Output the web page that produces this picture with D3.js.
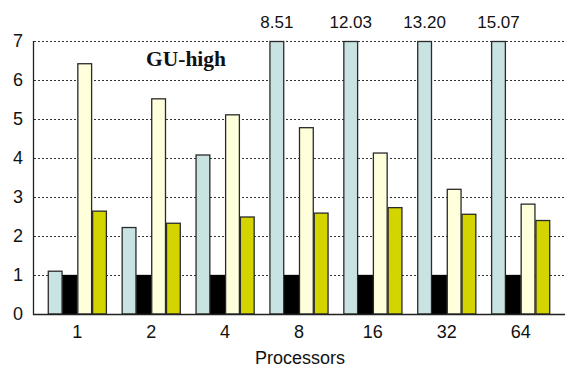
<!DOCTYPE html>
<html>
<head>
<meta charset="utf-8">
<script src="https://cdn.jsdelivr.net/npm/d3@7"></script>
<style>
  html, body { margin: 0; padding: 0; background: #fff; }
  svg { display: block; }
</style>
</head>
<body>
<svg id="chart" width="566" height="369"></svg>
<script>
// ---- data ----
const categories = ["1", "2", "4", "8", "16", "32", "64"];
const seriesNames = ["A", "B", "C", "D"];
const seriesA = [1.11, 2.23, 4.09, 8.51, 12.03, 13.20, 15.07];
const seriesB = [1, 1, 1, 1, 1, 1, 1];
const seriesC = [6.43, 5.53, 5.12, 4.79, 4.14, 3.21, 2.83];
const seriesD = [2.65, 2.34, 2.50, 2.60, 2.74, 2.57, 2.41];
const yTicks = [0, 1, 2, 3, 4, 5, 6, 7];
const chartTitle = "GU-high";
const xAxisTitle = "Processors";

const colors = ["#c9e3e3", "#000000", "#ffffdc", "#d4d400"];
const allSeries = [seriesA, seriesB, seriesC, seriesD];

const svg = d3.select("#chart");
const pL = 33, pR = 565, pT = 41, pB = 314;
const yMax = 7;

const x0 = d3.scaleBand().domain(categories).range([pL, pR]).paddingInner(0.2).paddingOuter(0.2);
const x1 = d3.scaleBand().domain(seriesNames).range([0, x0.bandwidth()]).padding(0);
const y = d3.scaleLinear().domain([0, yMax]).range([pB, pT]);

// grid lines
svg.append("g").selectAll("line").data(yTicks.filter(t => t > 0)).join("line")
  .attr("x1", pL + 1).attr("x2", pR)
  .attr("y1", d => Math.round(y(d)) + 0.5).attr("y2", d => Math.round(y(d)) + 0.5)
  .attr("stroke", "#333").attr("stroke-width", 1).attr("stroke-dasharray", "2,2");

// bars
const groups = svg.append("g").selectAll("g").data(categories).join("g")
  .attr("transform", d => `translate(${x0(d)},0)`);
groups.selectAll("rect")
  .data((c, i) => seriesNames.map((s, j) => ({ s, j, v: allSeries[j][i] })))
  .join("rect")
  .attr("x", d => x1(d.s) + 0.5)
  .attr("y", d => y(Math.min(d.v, yMax)) + 0.5)
  .attr("width", x1.bandwidth() - 1)
  .attr("height", d => y(0) - y(Math.min(d.v, yMax)) - 0.5)
  .attr("fill", d => colors[d.j])
  .attr("stroke", d => d.j === 1 ? "#000" : "#2a2a2a")
  .attr("stroke-width", 1.3);

// labels for clipped bars
groups.selectAll("text.over")
  .data((c, i) => seriesNames.map((s, j) => ({ s, j, v: allSeries[j][i] })).filter(d => d.v > yMax))
  .join("text").attr("class", "over")
  .attr("x", d => x1(d.s) + x1.bandwidth() / 2)
  .attr("y", 28)
  .attr("text-anchor", "middle")
  .attr("font-family", "Liberation Sans, Arial, sans-serif")
  .attr("font-size", 17)
  .attr("fill", "#111")
  .text(d => d.v.toFixed(2));

// axes lines
svg.append("line").attr("x1", pL + 0.5).attr("x2", pL + 0.5).attr("y1", pT).attr("y2", pB + 1)
  .attr("stroke", "#222").attr("stroke-width", 1.3);
svg.append("line").attr("x1", pL).attr("x2", pR).attr("y1", pB + 0.5).attr("y2", pB + 0.5)
  .attr("stroke", "#222").attr("stroke-width", 1.3);

// y tick labels
svg.append("g").selectAll("text").data(yTicks).join("text")
  .attr("x", 23).attr("y", d => y(d))
  .attr("dy", "0.35em")
  .attr("text-anchor", "end")
  .attr("font-family", "Liberation Sans, Arial, sans-serif")
  .attr("font-size", 18)
  .attr("fill", "#111")
  .text(d => d);

// x tick labels
svg.append("g").selectAll("text").data(categories).join("text")
  .attr("x", d => x0(d) + x0.bandwidth() / 2)
  .attr("y", 338)
  .attr("text-anchor", "middle")
  .attr("font-family", "Liberation Sans, Arial, sans-serif")
  .attr("font-size", 18)
  .attr("fill", "#111")
  .text(d => d);

// x axis title
svg.append("text")
  .attr("x", (pL + pR) / 2 + 1).attr("y", 364)
  .attr("text-anchor", "middle")
  .attr("font-family", "Liberation Sans, Arial, sans-serif")
  .attr("font-size", 18)
  .attr("fill", "#111")
  .text(xAxisTitle);

// chart title
svg.append("text")
  .attr("x", 146).attr("y", 66)
  .attr("font-family", "Liberation Serif, Times New Roman, serif")
  .attr("font-weight", "bold")
  .attr("font-size", 21.5)
  .attr("fill", "#111")
  .text(chartTitle);
</script>
</body>
</html>
